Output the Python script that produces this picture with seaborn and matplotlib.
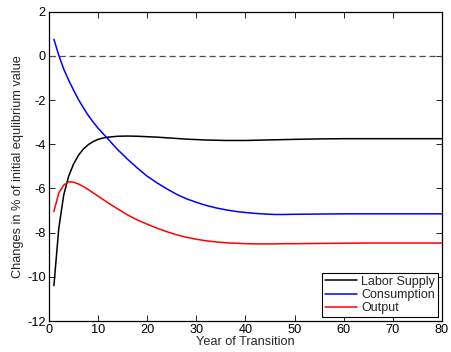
import matplotlib
matplotlib.use("Agg")
import matplotlib.pyplot as plt
import seaborn as sns
import pandas as pd

years = [1, 2, 3, 4, 5, 6, 7, 8, 9, 10, 11, 12, 14, 16, 18, 20, 22, 24, 26, 28,
         30, 32, 34, 36, 38, 40, 42, 44, 46, 48, 50, 55, 60, 65, 70, 75, 80]
labor_supply = [-10.4, -7.8, -6.3, -5.45, -4.9, -4.5, -4.22, -4.02, -3.88, -3.78,
                -3.72, -3.68, -3.64, -3.63, -3.64, -3.66, -3.68, -3.71, -3.74, -3.77,
                -3.79, -3.81, -3.82, -3.83, -3.83, -3.83, -3.82, -3.81, -3.80, -3.79,
                -3.78, -3.76, -3.75, -3.75, -3.75, -3.75, -3.75]
consumption = [0.75, 0.02, -0.6, -1.1, -1.55, -1.98, -2.35, -2.7, -3.0, -3.28,
               -3.52, -3.76, -4.25, -4.68, -5.08, -5.45, -5.75, -6.02, -6.27, -6.47,
               -6.63, -6.77, -6.88, -6.97, -7.04, -7.09, -7.13, -7.16, -7.18, -7.18,
               -7.17, -7.16, -7.15, -7.15, -7.15, -7.15, -7.15]
output = [-7.05, -6.2, -5.85, -5.7, -5.72, -5.8, -5.92, -6.05, -6.2, -6.35,
          -6.5, -6.65, -6.93, -7.2, -7.43, -7.62, -7.8, -7.96, -8.1, -8.21,
          -8.3, -8.37, -8.42, -8.46, -8.48, -8.5, -8.51, -8.51, -8.51, -8.5,
          -8.5, -8.49, -8.48, -8.47, -8.47, -8.47, -8.47]
series_names = ["Labor Supply", "Consumption", "Output"]
x_ticks = [0, 10, 20, 30, 40, 50, 60, 70, 80]
y_ticks = [-12, -10, -8, -6, -4, -2, 0, 2]

sns.set_style("ticks")
plt.rcParams["font.family"] = ["Liberation Sans", "DejaVu Sans"]
plt.rcParams["axes.unicode_minus"] = False
plt.rcParams["xtick.direction"] = "in"
plt.rcParams["ytick.direction"] = "in"

frames = []
for name, vals in zip(series_names, [labor_supply, consumption, output]):
    frames.append(pd.DataFrame({"Year": years, "Value": vals, "Series": name}))
df = pd.concat(frames, ignore_index=True)

fig = plt.figure(figsize=(4.51, 3.52), dpi=100)
ax = fig.add_axes([0.1086, 0.088, 0.8714, 0.879])

ax.axhline(0, color="0.3", lw=0.9, dashes=(5, 3), zorder=1)
sns.lineplot(data=df, x="Year", y="Value", hue="Series", hue_order=series_names,
             palette=["black", "blue", "red"], linewidth=1.1, ax=ax, sort=False)

ax.set_xlim(0, 80)
ax.set_ylim(-12, 2)
ax.set_xticks(x_ticks)
ax.set_yticks(y_ticks)
ax.tick_params(which="both", top=True, right=True, length=4, width=0.6,
               labelsize=9.2, pad=2.5, colors="black")
for s in ax.spines.values():
    s.set_visible(True)
    s.set_linewidth(0.9)
    s.set_color("black")
ax.set_xlabel("Year of Transition", fontsize=9.2, labelpad=0)
ax.set_ylabel("Changes in % of initial equlibrium value", fontsize=9.2, labelpad=2)

leg = ax.legend(loc="lower right", fontsize=9, frameon=True, fancybox=False,
                edgecolor="black", framealpha=1, borderpad=0.25, labelspacing=0.1,
                handlelength=2.6, handletextpad=0.3, borderaxespad=0.3)
leg.get_frame().set_linewidth(0.8)

fig.savefig("out.png", dpi=100)
